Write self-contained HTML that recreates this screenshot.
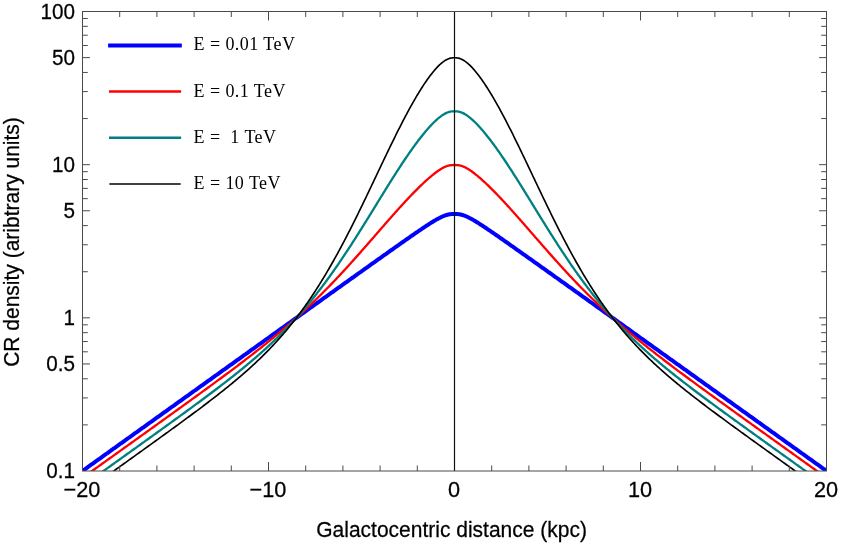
<!DOCTYPE html><html><head><meta charset="utf-8"><title>CR density</title><style>
html,body{margin:0;padding:0;background:#fff}
#p{position:relative;width:844px;height:548px;overflow:hidden;will-change:transform;font-family:"Liberation Sans",sans-serif;color:#000}
.t{position:absolute;white-space:nowrap;line-height:1}
.yt{font-size:21px;text-align:right;width:60px;left:15.4px;transform:scale(0.985,1.05);transform-origin:100% 50%;-webkit-text-stroke:0.25px #000}
.xt{font-size:21px;text-align:center;width:80px;transform:scale(1.035,1.05);transform-origin:50% 50%;-webkit-text-stroke:0.25px #000}
.lg{font-family:"Liberation Serif",serif;font-size:18px;left:193.5px;white-space:pre;letter-spacing:0.44px}

</style></head><body><div id="p">
<svg width="844" height="548" viewBox="0 0 844 548" style="position:absolute;left:0;top:0">
<defs><clipPath id="c"><rect x="82.5" y="11.5" width="744.0" height="459.5"/></clipPath></defs>
<g clip-path="url(#c)" fill="none" stroke-linejoin="round">
<path d="M74.5,476.66 L75.5,475.95 L76.5,475.23 L77.5,474.51 L78.5,473.80 L79.5,473.08 L80.5,472.37 L81.5,471.65 L82.5,470.93 L83.5,470.22 L84.5,469.50 L85.5,468.79 L86.5,468.07 L87.5,467.35 L88.5,466.64 L89.5,465.92 L90.5,465.21 L91.5,464.49 L92.5,463.77 L93.5,463.06 L94.5,462.34 L95.5,461.63 L96.5,460.91 L97.5,460.19 L98.5,459.48 L99.5,458.76 L100.5,458.05 L101.5,457.33 L102.5,456.61 L103.5,455.90 L104.5,455.18 L105.5,454.47 L106.5,453.75 L107.5,453.03 L108.5,452.32 L109.5,451.60 L110.5,450.89 L111.5,450.17 L112.5,449.45 L113.5,448.74 L114.5,448.02 L115.5,447.31 L116.5,446.59 L117.5,445.88 L118.5,445.16 L119.5,444.44 L120.5,443.73 L121.5,443.01 L122.5,442.30 L123.5,441.58 L124.5,440.86 L125.5,440.15 L126.5,439.43 L127.5,438.72 L128.5,438.00 L129.5,437.28 L130.5,436.57 L131.5,435.85 L132.5,435.14 L133.5,434.42 L134.5,433.70 L135.5,432.99 L136.5,432.27 L137.5,431.56 L138.5,430.84 L139.5,430.12 L140.5,429.41 L141.5,428.69 L142.5,427.98 L143.5,427.26 L144.5,426.55 L145.5,425.83 L146.5,425.11 L147.5,424.40 L148.5,423.68 L149.5,422.97 L150.5,422.25 L151.5,421.53 L152.5,420.82 L153.5,420.10 L154.5,419.39 L155.5,418.67 L156.5,417.95 L157.5,417.24 L158.5,416.52 L159.5,415.81 L160.5,415.09 L161.5,414.38 L162.5,413.66 L163.5,412.94 L164.5,412.23 L165.5,411.51 L166.5,410.80 L167.5,410.08 L168.5,409.36 L169.5,408.65 L170.5,407.93 L171.5,407.22 L172.5,406.50 L173.5,405.78 L174.5,405.07 L175.5,404.35 L176.5,403.64 L177.5,402.92 L178.5,402.21 L179.5,401.49 L180.5,400.77 L181.5,400.06 L182.5,399.34 L183.5,398.63 L184.5,397.91 L185.5,397.19 L186.5,396.48 L187.5,395.76 L188.5,395.05 L189.5,394.33 L190.5,393.62 L191.5,392.90 L192.5,392.18 L193.5,391.47 L194.5,390.75 L195.5,390.04 L196.5,389.32 L197.5,388.60 L198.5,387.89 L199.5,387.17 L200.5,386.46 L201.5,385.74 L202.5,385.03 L203.5,384.31 L204.5,383.59 L205.5,382.88 L206.5,382.16 L207.5,381.45 L208.5,380.73 L209.5,380.02 L210.5,379.30 L211.5,378.58 L212.5,377.87 L213.5,377.15 L214.5,376.44 L215.5,375.72 L216.5,375.00 L217.5,374.29 L218.5,373.57 L219.5,372.86 L220.5,372.14 L221.5,371.43 L222.5,370.71 L223.5,369.99 L224.5,369.28 L225.5,368.56 L226.5,367.85 L227.5,367.13 L228.5,366.42 L229.5,365.70 L230.5,364.98 L231.5,364.27 L232.5,363.55 L233.5,362.84 L234.5,362.12 L235.5,361.41 L236.5,360.69 L237.5,359.97 L238.5,359.26 L239.5,358.54 L240.5,357.83 L241.5,357.11 L242.5,356.40 L243.5,355.68 L244.5,354.97 L245.5,354.25 L246.5,353.53 L247.5,352.82 L248.5,352.10 L249.5,351.39 L250.5,350.67 L251.5,349.96 L252.5,349.24 L253.5,348.52 L254.5,347.81 L255.5,347.09 L256.5,346.38 L257.5,345.66 L258.5,344.95 L259.5,344.23 L260.5,343.52 L261.5,342.80 L262.5,342.08 L263.5,341.37 L264.5,340.65 L265.5,339.94 L266.5,339.22 L267.5,338.51 L268.5,337.79 L269.5,337.08 L270.5,336.36 L271.5,335.65 L272.5,334.93 L273.5,334.21 L274.5,333.50 L275.5,332.78 L276.5,332.07 L277.5,331.35 L278.5,330.64 L279.5,329.92 L280.5,329.21 L281.5,328.49 L282.5,327.78 L283.5,327.06 L284.5,326.35 L285.5,325.63 L286.5,324.91 L287.5,324.20 L288.5,323.48 L289.5,322.77 L290.5,322.05 L291.5,321.34 L292.5,320.62 L293.5,319.91 L294.5,319.19 L295.5,318.48 L296.5,317.76 L297.5,317.05 L298.5,316.33 L299.5,315.62 L300.5,314.90 L301.5,314.19 L302.5,313.47 L303.5,312.76 L304.5,312.04 L305.5,311.33 L306.5,310.61 L307.5,309.90 L308.5,309.18 L309.5,308.47 L310.5,307.75 L311.5,307.04 L312.5,306.32 L313.5,305.61 L314.5,304.89 L315.5,304.18 L316.5,303.46 L317.5,302.75 L318.5,302.03 L319.5,301.32 L320.5,300.60 L321.5,299.89 L322.5,299.17 L323.5,298.46 L324.5,297.74 L325.5,297.03 L326.5,296.31 L327.5,295.60 L328.5,294.88 L329.5,294.17 L330.5,293.46 L331.5,292.74 L332.5,292.03 L333.5,291.31 L334.5,290.60 L335.5,289.88 L336.5,289.17 L337.5,288.46 L338.5,287.74 L339.5,287.03 L340.5,286.31 L341.5,285.60 L342.5,284.88 L343.5,284.17 L344.5,283.46 L345.5,282.74 L346.5,282.03 L347.5,281.32 L348.5,280.60 L349.5,279.89 L350.5,279.17 L351.5,278.46 L352.5,277.75 L353.5,277.03 L354.5,276.32 L355.5,275.61 L356.5,274.89 L357.5,274.18 L358.5,273.47 L359.5,272.75 L360.5,272.04 L361.5,271.33 L362.5,270.62 L363.5,269.90 L364.5,269.19 L365.5,268.48 L366.5,267.77 L367.5,267.05 L368.5,266.34 L369.5,265.63 L370.5,264.92 L371.5,264.21 L372.5,263.49 L373.5,262.78 L374.5,262.07 L375.5,261.36 L376.5,260.65 L377.5,259.94 L378.5,259.23 L379.5,258.52 L380.5,257.81 L381.5,257.10 L382.5,256.39 L383.5,255.68 L384.5,254.97 L385.5,254.26 L386.5,253.55 L387.5,252.84 L388.5,252.13 L389.5,251.42 L390.5,250.71 L391.5,250.01 L392.5,249.30 L393.5,248.59 L394.5,247.89 L395.5,247.18 L396.5,246.47 L397.5,245.77 L398.5,245.06 L399.5,244.36 L400.5,243.66 L401.5,242.95 L402.5,242.25 L403.5,241.55 L404.5,240.85 L405.5,240.15 L406.5,239.45 L407.5,238.75 L408.5,238.05 L409.5,237.35 L410.5,236.66 L411.5,235.96 L412.5,235.27 L413.5,234.58 L414.5,233.88 L415.5,233.19 L416.5,232.51 L417.5,231.82 L418.5,231.14 L419.5,230.46 L420.5,229.78 L421.5,229.10 L422.5,228.42 L423.5,227.75 L424.5,227.09 L425.5,226.42 L426.5,225.76 L427.5,225.11 L428.5,224.46 L429.5,223.82 L430.5,223.18 L431.5,222.55 L432.5,221.93 L433.5,221.32 L434.5,220.71 L435.5,220.12 L436.5,219.55 L437.5,218.99 L438.5,218.44 L439.5,217.92 L440.5,217.41 L441.5,216.93 L442.5,216.48 L443.5,216.06 L444.5,215.67 L445.5,215.32 L446.5,215.01 L447.5,214.75 L448.5,214.52 L449.5,214.34 L450.5,214.21 L451.5,214.11 L452.5,214.05 L453.5,214.02 L454.5,214.02 L455.5,214.02 L456.5,214.05 L457.5,214.11 L458.5,214.21 L459.5,214.34 L460.5,214.52 L461.5,214.75 L462.5,215.01 L463.5,215.32 L464.5,215.67 L465.5,216.06 L466.5,216.48 L467.5,216.93 L468.5,217.41 L469.5,217.92 L470.5,218.44 L471.5,218.99 L472.5,219.55 L473.5,220.12 L474.5,220.71 L475.5,221.32 L476.5,221.93 L477.5,222.55 L478.5,223.18 L479.5,223.82 L480.5,224.46 L481.5,225.11 L482.5,225.76 L483.5,226.42 L484.5,227.09 L485.5,227.75 L486.5,228.42 L487.5,229.10 L488.5,229.78 L489.5,230.46 L490.5,231.14 L491.5,231.82 L492.5,232.51 L493.5,233.19 L494.5,233.88 L495.5,234.58 L496.5,235.27 L497.5,235.96 L498.5,236.66 L499.5,237.35 L500.5,238.05 L501.5,238.75 L502.5,239.45 L503.5,240.15 L504.5,240.85 L505.5,241.55 L506.5,242.25 L507.5,242.95 L508.5,243.66 L509.5,244.36 L510.5,245.06 L511.5,245.77 L512.5,246.47 L513.5,247.18 L514.5,247.89 L515.5,248.59 L516.5,249.30 L517.5,250.01 L518.5,250.71 L519.5,251.42 L520.5,252.13 L521.5,252.84 L522.5,253.55 L523.5,254.26 L524.5,254.97 L525.5,255.68 L526.5,256.39 L527.5,257.10 L528.5,257.81 L529.5,258.52 L530.5,259.23 L531.5,259.94 L532.5,260.65 L533.5,261.36 L534.5,262.07 L535.5,262.78 L536.5,263.49 L537.5,264.21 L538.5,264.92 L539.5,265.63 L540.5,266.34 L541.5,267.05 L542.5,267.77 L543.5,268.48 L544.5,269.19 L545.5,269.90 L546.5,270.62 L547.5,271.33 L548.5,272.04 L549.5,272.75 L550.5,273.47 L551.5,274.18 L552.5,274.89 L553.5,275.61 L554.5,276.32 L555.5,277.03 L556.5,277.75 L557.5,278.46 L558.5,279.17 L559.5,279.89 L560.5,280.60 L561.5,281.32 L562.5,282.03 L563.5,282.74 L564.5,283.46 L565.5,284.17 L566.5,284.88 L567.5,285.60 L568.5,286.31 L569.5,287.03 L570.5,287.74 L571.5,288.46 L572.5,289.17 L573.5,289.88 L574.5,290.60 L575.5,291.31 L576.5,292.03 L577.5,292.74 L578.5,293.46 L579.5,294.17 L580.5,294.88 L581.5,295.60 L582.5,296.31 L583.5,297.03 L584.5,297.74 L585.5,298.46 L586.5,299.17 L587.5,299.89 L588.5,300.60 L589.5,301.32 L590.5,302.03 L591.5,302.75 L592.5,303.46 L593.5,304.18 L594.5,304.89 L595.5,305.61 L596.5,306.32 L597.5,307.04 L598.5,307.75 L599.5,308.47 L600.5,309.18 L601.5,309.90 L602.5,310.61 L603.5,311.33 L604.5,312.04 L605.5,312.76 L606.5,313.47 L607.5,314.19 L608.5,314.90 L609.5,315.62 L610.5,316.33 L611.5,317.05 L612.5,317.76 L613.5,318.48 L614.5,319.19 L615.5,319.91 L616.5,320.62 L617.5,321.34 L618.5,322.05 L619.5,322.77 L620.5,323.48 L621.5,324.20 L622.5,324.91 L623.5,325.63 L624.5,326.35 L625.5,327.06 L626.5,327.78 L627.5,328.49 L628.5,329.21 L629.5,329.92 L630.5,330.64 L631.5,331.35 L632.5,332.07 L633.5,332.78 L634.5,333.50 L635.5,334.21 L636.5,334.93 L637.5,335.65 L638.5,336.36 L639.5,337.08 L640.5,337.79 L641.5,338.51 L642.5,339.22 L643.5,339.94 L644.5,340.65 L645.5,341.37 L646.5,342.08 L647.5,342.80 L648.5,343.52 L649.5,344.23 L650.5,344.95 L651.5,345.66 L652.5,346.38 L653.5,347.09 L654.5,347.81 L655.5,348.52 L656.5,349.24 L657.5,349.96 L658.5,350.67 L659.5,351.39 L660.5,352.10 L661.5,352.82 L662.5,353.53 L663.5,354.25 L664.5,354.97 L665.5,355.68 L666.5,356.40 L667.5,357.11 L668.5,357.83 L669.5,358.54 L670.5,359.26 L671.5,359.97 L672.5,360.69 L673.5,361.41 L674.5,362.12 L675.5,362.84 L676.5,363.55 L677.5,364.27 L678.5,364.98 L679.5,365.70 L680.5,366.42 L681.5,367.13 L682.5,367.85 L683.5,368.56 L684.5,369.28 L685.5,369.99 L686.5,370.71 L687.5,371.43 L688.5,372.14 L689.5,372.86 L690.5,373.57 L691.5,374.29 L692.5,375.00 L693.5,375.72 L694.5,376.44 L695.5,377.15 L696.5,377.87 L697.5,378.58 L698.5,379.30 L699.5,380.02 L700.5,380.73 L701.5,381.45 L702.5,382.16 L703.5,382.88 L704.5,383.59 L705.5,384.31 L706.5,385.03 L707.5,385.74 L708.5,386.46 L709.5,387.17 L710.5,387.89 L711.5,388.60 L712.5,389.32 L713.5,390.04 L714.5,390.75 L715.5,391.47 L716.5,392.18 L717.5,392.90 L718.5,393.62 L719.5,394.33 L720.5,395.05 L721.5,395.76 L722.5,396.48 L723.5,397.19 L724.5,397.91 L725.5,398.63 L726.5,399.34 L727.5,400.06 L728.5,400.77 L729.5,401.49 L730.5,402.21 L731.5,402.92 L732.5,403.64 L733.5,404.35 L734.5,405.07 L735.5,405.78 L736.5,406.50 L737.5,407.22 L738.5,407.93 L739.5,408.65 L740.5,409.36 L741.5,410.08 L742.5,410.80 L743.5,411.51 L744.5,412.23 L745.5,412.94 L746.5,413.66 L747.5,414.38 L748.5,415.09 L749.5,415.81 L750.5,416.52 L751.5,417.24 L752.5,417.95 L753.5,418.67 L754.5,419.39 L755.5,420.10 L756.5,420.82 L757.5,421.53 L758.5,422.25 L759.5,422.97 L760.5,423.68 L761.5,424.40 L762.5,425.11 L763.5,425.83 L764.5,426.55 L765.5,427.26 L766.5,427.98 L767.5,428.69 L768.5,429.41 L769.5,430.12 L770.5,430.84 L771.5,431.56 L772.5,432.27 L773.5,432.99 L774.5,433.70 L775.5,434.42 L776.5,435.14 L777.5,435.85 L778.5,436.57 L779.5,437.28 L780.5,438.00 L781.5,438.72 L782.5,439.43 L783.5,440.15 L784.5,440.86 L785.5,441.58 L786.5,442.30 L787.5,443.01 L788.5,443.73 L789.5,444.44 L790.5,445.16 L791.5,445.88 L792.5,446.59 L793.5,447.31 L794.5,448.02 L795.5,448.74 L796.5,449.45 L797.5,450.17 L798.5,450.89 L799.5,451.60 L800.5,452.32 L801.5,453.03 L802.5,453.75 L803.5,454.47 L804.5,455.18 L805.5,455.90 L806.5,456.61 L807.5,457.33 L808.5,458.05 L809.5,458.76 L810.5,459.48 L811.5,460.19 L812.5,460.91 L813.5,461.63 L814.5,462.34 L815.5,463.06 L816.5,463.77 L817.5,464.49 L818.5,465.21 L819.5,465.92 L820.5,466.64 L821.5,467.35 L822.5,468.07 L823.5,468.79 L824.5,469.50 L825.5,470.22 L826.5,470.93 L827.5,471.65 L828.5,472.37 L829.5,473.08 L830.5,473.80 L831.5,474.51 L832.5,475.23 L833.5,475.95 L834.5,476.66" stroke="#0000ff" stroke-width="4.0"/>
<path d="M74.5,483.57 L75.5,482.85 L76.5,482.14 L77.5,481.42 L78.5,480.71 L79.5,479.99 L80.5,479.27 L81.5,478.56 L82.5,477.84 L83.5,477.13 L84.5,476.41 L85.5,475.69 L86.5,474.98 L87.5,474.26 L88.5,473.55 L89.5,472.83 L90.5,472.11 L91.5,471.40 L92.5,470.68 L93.5,469.97 L94.5,469.25 L95.5,468.53 L96.5,467.82 L97.5,467.10 L98.5,466.39 L99.5,465.67 L100.5,464.95 L101.5,464.24 L102.5,463.52 L103.5,462.81 L104.5,462.09 L105.5,461.37 L106.5,460.66 L107.5,459.94 L108.5,459.23 L109.5,458.51 L110.5,457.79 L111.5,457.08 L112.5,456.36 L113.5,455.65 L114.5,454.93 L115.5,454.21 L116.5,453.50 L117.5,452.78 L118.5,452.06 L119.5,451.35 L120.5,450.63 L121.5,449.92 L122.5,449.20 L123.5,448.48 L124.5,447.77 L125.5,447.05 L126.5,446.33 L127.5,445.62 L128.5,444.90 L129.5,444.19 L130.5,443.47 L131.5,442.75 L132.5,442.04 L133.5,441.32 L134.5,440.60 L135.5,439.89 L136.5,439.17 L137.5,438.45 L138.5,437.74 L139.5,437.02 L140.5,436.30 L141.5,435.59 L142.5,434.87 L143.5,434.15 L144.5,433.44 L145.5,432.72 L146.5,432.00 L147.5,431.29 L148.5,430.57 L149.5,429.85 L150.5,429.14 L151.5,428.42 L152.5,427.70 L153.5,426.98 L154.5,426.27 L155.5,425.55 L156.5,424.83 L157.5,424.11 L158.5,423.40 L159.5,422.68 L160.5,421.96 L161.5,421.24 L162.5,420.52 L163.5,419.81 L164.5,419.09 L165.5,418.37 L166.5,417.65 L167.5,416.93 L168.5,416.21 L169.5,415.50 L170.5,414.78 L171.5,414.06 L172.5,413.34 L173.5,412.62 L174.5,411.90 L175.5,411.18 L176.5,410.46 L177.5,409.74 L178.5,409.02 L179.5,408.30 L180.5,407.58 L181.5,406.86 L182.5,406.14 L183.5,405.42 L184.5,404.69 L185.5,403.97 L186.5,403.25 L187.5,402.53 L188.5,401.81 L189.5,401.08 L190.5,400.36 L191.5,399.64 L192.5,398.91 L193.5,398.19 L194.5,397.47 L195.5,396.74 L196.5,396.02 L197.5,395.29 L198.5,394.57 L199.5,393.84 L200.5,393.11 L201.5,392.39 L202.5,391.66 L203.5,390.93 L204.5,390.20 L205.5,389.48 L206.5,388.75 L207.5,388.02 L208.5,387.29 L209.5,386.56 L210.5,385.83 L211.5,385.09 L212.5,384.36 L213.5,383.63 L214.5,382.89 L215.5,382.16 L216.5,381.43 L217.5,380.69 L218.5,379.95 L219.5,379.22 L220.5,378.48 L221.5,377.74 L222.5,377.00 L223.5,376.26 L224.5,375.52 L225.5,374.78 L226.5,374.04 L227.5,373.29 L228.5,372.55 L229.5,371.80 L230.5,371.05 L231.5,370.31 L232.5,369.56 L233.5,368.81 L234.5,368.06 L235.5,367.30 L236.5,366.55 L237.5,365.80 L238.5,365.04 L239.5,364.28 L240.5,363.53 L241.5,362.77 L242.5,362.00 L243.5,361.24 L244.5,360.48 L245.5,359.71 L246.5,358.95 L247.5,358.18 L248.5,357.41 L249.5,356.64 L250.5,355.86 L251.5,355.09 L252.5,354.31 L253.5,353.53 L254.5,352.75 L255.5,351.97 L256.5,351.18 L257.5,350.40 L258.5,349.61 L259.5,348.82 L260.5,348.03 L261.5,347.23 L262.5,346.44 L263.5,345.64 L264.5,344.84 L265.5,344.03 L266.5,343.23 L267.5,342.42 L268.5,341.61 L269.5,340.79 L270.5,339.98 L271.5,339.16 L272.5,338.34 L273.5,337.52 L274.5,336.69 L275.5,335.86 L276.5,335.03 L277.5,334.20 L278.5,333.36 L279.5,332.52 L280.5,331.67 L281.5,330.83 L282.5,329.98 L283.5,329.13 L284.5,328.27 L285.5,327.41 L286.5,326.55 L287.5,325.68 L288.5,324.82 L289.5,323.94 L290.5,323.07 L291.5,322.19 L292.5,321.31 L293.5,320.42 L294.5,319.53 L295.5,318.64 L296.5,317.74 L297.5,316.84 L298.5,315.94 L299.5,315.03 L300.5,314.12 L301.5,313.20 L302.5,312.29 L303.5,311.36 L304.5,310.44 L305.5,309.51 L306.5,308.57 L307.5,307.63 L308.5,306.69 L309.5,305.74 L310.5,304.79 L311.5,303.84 L312.5,302.88 L313.5,301.91 L314.5,300.95 L315.5,299.98 L316.5,299.00 L317.5,298.02 L318.5,297.04 L319.5,296.05 L320.5,295.06 L321.5,294.06 L322.5,293.06 L323.5,292.06 L324.5,291.05 L325.5,290.04 L326.5,289.02 L327.5,288.00 L328.5,286.97 L329.5,285.94 L330.5,284.91 L331.5,283.87 L332.5,282.83 L333.5,281.79 L334.5,280.74 L335.5,279.69 L336.5,278.63 L337.5,277.57 L338.5,276.50 L339.5,275.43 L340.5,274.36 L341.5,273.29 L342.5,272.21 L343.5,271.12 L344.5,270.04 L345.5,268.95 L346.5,267.86 L347.5,266.76 L348.5,265.66 L349.5,264.56 L350.5,263.45 L351.5,262.34 L352.5,261.23 L353.5,260.11 L354.5,259.00 L355.5,257.88 L356.5,256.75 L357.5,255.63 L358.5,254.50 L359.5,253.37 L360.5,252.24 L361.5,251.10 L362.5,249.97 L363.5,248.83 L364.5,247.69 L365.5,246.55 L366.5,245.41 L367.5,244.26 L368.5,243.12 L369.5,241.97 L370.5,240.82 L371.5,239.68 L372.5,238.53 L373.5,237.38 L374.5,236.23 L375.5,235.08 L376.5,233.93 L377.5,232.78 L378.5,231.63 L379.5,230.48 L380.5,229.33 L381.5,228.18 L382.5,227.04 L383.5,225.89 L384.5,224.74 L385.5,223.60 L386.5,222.46 L387.5,221.32 L388.5,220.18 L389.5,219.04 L390.5,217.91 L391.5,216.78 L392.5,215.65 L393.5,214.52 L394.5,213.40 L395.5,212.28 L396.5,211.16 L397.5,210.04 L398.5,208.93 L399.5,207.83 L400.5,206.73 L401.5,205.63 L402.5,204.54 L403.5,203.45 L404.5,202.36 L405.5,201.29 L406.5,200.21 L407.5,199.15 L408.5,198.09 L409.5,197.03 L410.5,195.98 L411.5,194.94 L412.5,193.90 L413.5,192.87 L414.5,191.85 L415.5,190.84 L416.5,189.83 L417.5,188.83 L418.5,187.84 L419.5,186.86 L420.5,185.89 L421.5,184.93 L422.5,183.98 L423.5,183.03 L424.5,182.10 L425.5,181.18 L426.5,180.27 L427.5,179.38 L428.5,178.49 L429.5,177.62 L430.5,176.77 L431.5,175.93 L432.5,175.10 L433.5,174.30 L434.5,173.51 L435.5,172.74 L436.5,172.00 L437.5,171.28 L438.5,170.58 L439.5,169.92 L440.5,169.28 L441.5,168.67 L442.5,168.11 L443.5,167.58 L444.5,167.10 L445.5,166.66 L446.5,166.27 L447.5,165.93 L448.5,165.65 L449.5,165.42 L450.5,165.24 L451.5,165.11 L452.5,165.03 L453.5,164.99 L454.5,164.98 L455.5,164.99 L456.5,165.03 L457.5,165.11 L458.5,165.24 L459.5,165.42 L460.5,165.65 L461.5,165.93 L462.5,166.27 L463.5,166.66 L464.5,167.10 L465.5,167.58 L466.5,168.11 L467.5,168.67 L468.5,169.28 L469.5,169.92 L470.5,170.58 L471.5,171.28 L472.5,172.00 L473.5,172.74 L474.5,173.51 L475.5,174.30 L476.5,175.10 L477.5,175.93 L478.5,176.77 L479.5,177.62 L480.5,178.49 L481.5,179.38 L482.5,180.27 L483.5,181.18 L484.5,182.10 L485.5,183.03 L486.5,183.98 L487.5,184.93 L488.5,185.89 L489.5,186.86 L490.5,187.84 L491.5,188.83 L492.5,189.83 L493.5,190.84 L494.5,191.85 L495.5,192.87 L496.5,193.90 L497.5,194.94 L498.5,195.98 L499.5,197.03 L500.5,198.09 L501.5,199.15 L502.5,200.21 L503.5,201.29 L504.5,202.36 L505.5,203.45 L506.5,204.54 L507.5,205.63 L508.5,206.73 L509.5,207.83 L510.5,208.93 L511.5,210.04 L512.5,211.16 L513.5,212.28 L514.5,213.40 L515.5,214.52 L516.5,215.65 L517.5,216.78 L518.5,217.91 L519.5,219.04 L520.5,220.18 L521.5,221.32 L522.5,222.46 L523.5,223.60 L524.5,224.74 L525.5,225.89 L526.5,227.04 L527.5,228.18 L528.5,229.33 L529.5,230.48 L530.5,231.63 L531.5,232.78 L532.5,233.93 L533.5,235.08 L534.5,236.23 L535.5,237.38 L536.5,238.53 L537.5,239.68 L538.5,240.82 L539.5,241.97 L540.5,243.12 L541.5,244.26 L542.5,245.41 L543.5,246.55 L544.5,247.69 L545.5,248.83 L546.5,249.97 L547.5,251.10 L548.5,252.24 L549.5,253.37 L550.5,254.50 L551.5,255.63 L552.5,256.75 L553.5,257.88 L554.5,259.00 L555.5,260.11 L556.5,261.23 L557.5,262.34 L558.5,263.45 L559.5,264.56 L560.5,265.66 L561.5,266.76 L562.5,267.86 L563.5,268.95 L564.5,270.04 L565.5,271.12 L566.5,272.21 L567.5,273.29 L568.5,274.36 L569.5,275.43 L570.5,276.50 L571.5,277.57 L572.5,278.63 L573.5,279.69 L574.5,280.74 L575.5,281.79 L576.5,282.83 L577.5,283.87 L578.5,284.91 L579.5,285.94 L580.5,286.97 L581.5,288.00 L582.5,289.02 L583.5,290.04 L584.5,291.05 L585.5,292.06 L586.5,293.06 L587.5,294.06 L588.5,295.06 L589.5,296.05 L590.5,297.04 L591.5,298.02 L592.5,299.00 L593.5,299.98 L594.5,300.95 L595.5,301.91 L596.5,302.88 L597.5,303.84 L598.5,304.79 L599.5,305.74 L600.5,306.69 L601.5,307.63 L602.5,308.57 L603.5,309.51 L604.5,310.44 L605.5,311.36 L606.5,312.29 L607.5,313.20 L608.5,314.12 L609.5,315.03 L610.5,315.94 L611.5,316.84 L612.5,317.74 L613.5,318.64 L614.5,319.53 L615.5,320.42 L616.5,321.31 L617.5,322.19 L618.5,323.07 L619.5,323.94 L620.5,324.82 L621.5,325.68 L622.5,326.55 L623.5,327.41 L624.5,328.27 L625.5,329.13 L626.5,329.98 L627.5,330.83 L628.5,331.67 L629.5,332.52 L630.5,333.36 L631.5,334.20 L632.5,335.03 L633.5,335.86 L634.5,336.69 L635.5,337.52 L636.5,338.34 L637.5,339.16 L638.5,339.98 L639.5,340.79 L640.5,341.61 L641.5,342.42 L642.5,343.23 L643.5,344.03 L644.5,344.84 L645.5,345.64 L646.5,346.44 L647.5,347.23 L648.5,348.03 L649.5,348.82 L650.5,349.61 L651.5,350.40 L652.5,351.18 L653.5,351.97 L654.5,352.75 L655.5,353.53 L656.5,354.31 L657.5,355.09 L658.5,355.86 L659.5,356.64 L660.5,357.41 L661.5,358.18 L662.5,358.95 L663.5,359.71 L664.5,360.48 L665.5,361.24 L666.5,362.00 L667.5,362.77 L668.5,363.53 L669.5,364.28 L670.5,365.04 L671.5,365.80 L672.5,366.55 L673.5,367.30 L674.5,368.06 L675.5,368.81 L676.5,369.56 L677.5,370.31 L678.5,371.05 L679.5,371.80 L680.5,372.55 L681.5,373.29 L682.5,374.04 L683.5,374.78 L684.5,375.52 L685.5,376.26 L686.5,377.00 L687.5,377.74 L688.5,378.48 L689.5,379.22 L690.5,379.95 L691.5,380.69 L692.5,381.43 L693.5,382.16 L694.5,382.89 L695.5,383.63 L696.5,384.36 L697.5,385.09 L698.5,385.83 L699.5,386.56 L700.5,387.29 L701.5,388.02 L702.5,388.75 L703.5,389.48 L704.5,390.20 L705.5,390.93 L706.5,391.66 L707.5,392.39 L708.5,393.11 L709.5,393.84 L710.5,394.57 L711.5,395.29 L712.5,396.02 L713.5,396.74 L714.5,397.47 L715.5,398.19 L716.5,398.91 L717.5,399.64 L718.5,400.36 L719.5,401.08 L720.5,401.81 L721.5,402.53 L722.5,403.25 L723.5,403.97 L724.5,404.69 L725.5,405.42 L726.5,406.14 L727.5,406.86 L728.5,407.58 L729.5,408.30 L730.5,409.02 L731.5,409.74 L732.5,410.46 L733.5,411.18 L734.5,411.90 L735.5,412.62 L736.5,413.34 L737.5,414.06 L738.5,414.78 L739.5,415.50 L740.5,416.21 L741.5,416.93 L742.5,417.65 L743.5,418.37 L744.5,419.09 L745.5,419.81 L746.5,420.52 L747.5,421.24 L748.5,421.96 L749.5,422.68 L750.5,423.40 L751.5,424.11 L752.5,424.83 L753.5,425.55 L754.5,426.27 L755.5,426.98 L756.5,427.70 L757.5,428.42 L758.5,429.14 L759.5,429.85 L760.5,430.57 L761.5,431.29 L762.5,432.00 L763.5,432.72 L764.5,433.44 L765.5,434.15 L766.5,434.87 L767.5,435.59 L768.5,436.30 L769.5,437.02 L770.5,437.74 L771.5,438.45 L772.5,439.17 L773.5,439.89 L774.5,440.60 L775.5,441.32 L776.5,442.04 L777.5,442.75 L778.5,443.47 L779.5,444.19 L780.5,444.90 L781.5,445.62 L782.5,446.33 L783.5,447.05 L784.5,447.77 L785.5,448.48 L786.5,449.20 L787.5,449.92 L788.5,450.63 L789.5,451.35 L790.5,452.06 L791.5,452.78 L792.5,453.50 L793.5,454.21 L794.5,454.93 L795.5,455.65 L796.5,456.36 L797.5,457.08 L798.5,457.79 L799.5,458.51 L800.5,459.23 L801.5,459.94 L802.5,460.66 L803.5,461.37 L804.5,462.09 L805.5,462.81 L806.5,463.52 L807.5,464.24 L808.5,464.95 L809.5,465.67 L810.5,466.39 L811.5,467.10 L812.5,467.82 L813.5,468.53 L814.5,469.25 L815.5,469.97 L816.5,470.68 L817.5,471.40 L818.5,472.11 L819.5,472.83 L820.5,473.55 L821.5,474.26 L822.5,474.98 L823.5,475.69 L824.5,476.41 L825.5,477.13 L826.5,477.84 L827.5,478.56 L828.5,479.27 L829.5,479.99 L830.5,480.71 L831.5,481.42 L832.5,482.14 L833.5,482.85 L834.5,483.57" stroke="#ff0000" stroke-width="2.3"/>
<path d="M74.5,491.77 L75.5,491.05 L76.5,490.34 L77.5,489.62 L78.5,488.90 L79.5,488.19 L80.5,487.47 L81.5,486.76 L82.5,486.04 L83.5,485.32 L84.5,484.61 L85.5,483.89 L86.5,483.18 L87.5,482.46 L88.5,481.74 L89.5,481.03 L90.5,480.31 L91.5,479.60 L92.5,478.88 L93.5,478.16 L94.5,477.45 L95.5,476.73 L96.5,476.01 L97.5,475.30 L98.5,474.58 L99.5,473.87 L100.5,473.15 L101.5,472.43 L102.5,471.72 L103.5,471.00 L104.5,470.29 L105.5,469.57 L106.5,468.85 L107.5,468.14 L108.5,467.42 L109.5,466.70 L110.5,465.99 L111.5,465.27 L112.5,464.56 L113.5,463.84 L114.5,463.12 L115.5,462.41 L116.5,461.69 L117.5,460.97 L118.5,460.26 L119.5,459.54 L120.5,458.82 L121.5,458.11 L122.5,457.39 L123.5,456.67 L124.5,455.96 L125.5,455.24 L126.5,454.52 L127.5,453.81 L128.5,453.09 L129.5,452.37 L130.5,451.66 L131.5,450.94 L132.5,450.22 L133.5,449.50 L134.5,448.79 L135.5,448.07 L136.5,447.35 L137.5,446.63 L138.5,445.92 L139.5,445.20 L140.5,444.48 L141.5,443.76 L142.5,443.05 L143.5,442.33 L144.5,441.61 L145.5,440.89 L146.5,440.17 L147.5,439.45 L148.5,438.74 L149.5,438.02 L150.5,437.30 L151.5,436.58 L152.5,435.86 L153.5,435.14 L154.5,434.42 L155.5,433.70 L156.5,432.98 L157.5,432.26 L158.5,431.54 L159.5,430.82 L160.5,430.10 L161.5,429.38 L162.5,428.66 L163.5,427.94 L164.5,427.22 L165.5,426.50 L166.5,425.77 L167.5,425.05 L168.5,424.33 L169.5,423.61 L170.5,422.88 L171.5,422.16 L172.5,421.44 L173.5,420.71 L174.5,419.99 L175.5,419.26 L176.5,418.54 L177.5,417.81 L178.5,417.09 L179.5,416.36 L180.5,415.64 L181.5,414.91 L182.5,414.18 L183.5,413.45 L184.5,412.72 L185.5,411.99 L186.5,411.26 L187.5,410.53 L188.5,409.80 L189.5,409.07 L190.5,408.34 L191.5,407.61 L192.5,406.87 L193.5,406.14 L194.5,405.40 L195.5,404.67 L196.5,403.93 L197.5,403.20 L198.5,402.46 L199.5,401.72 L200.5,400.98 L201.5,400.24 L202.5,399.50 L203.5,398.75 L204.5,398.01 L205.5,397.26 L206.5,396.52 L207.5,395.77 L208.5,395.02 L209.5,394.27 L210.5,393.52 L211.5,392.77 L212.5,392.02 L213.5,391.26 L214.5,390.51 L215.5,389.75 L216.5,388.99 L217.5,388.23 L218.5,387.47 L219.5,386.71 L220.5,385.94 L221.5,385.17 L222.5,384.40 L223.5,383.63 L224.5,382.86 L225.5,382.09 L226.5,381.31 L227.5,380.53 L228.5,379.75 L229.5,378.97 L230.5,378.19 L231.5,377.40 L232.5,376.61 L233.5,375.82 L234.5,375.02 L235.5,374.23 L236.5,373.43 L237.5,372.62 L238.5,371.82 L239.5,371.01 L240.5,370.20 L241.5,369.39 L242.5,368.57 L243.5,367.75 L244.5,366.93 L245.5,366.10 L246.5,365.28 L247.5,364.44 L248.5,363.61 L249.5,362.77 L250.5,361.92 L251.5,361.08 L252.5,360.23 L253.5,359.37 L254.5,358.51 L255.5,357.65 L256.5,356.79 L257.5,355.92 L258.5,355.04 L259.5,354.16 L260.5,353.28 L261.5,352.39 L262.5,351.50 L263.5,350.60 L264.5,349.70 L265.5,348.79 L266.5,347.88 L267.5,346.96 L268.5,346.04 L269.5,345.11 L270.5,344.17 L271.5,343.24 L272.5,342.29 L273.5,341.34 L274.5,340.39 L275.5,339.42 L276.5,338.46 L277.5,337.48 L278.5,336.50 L279.5,335.52 L280.5,334.53 L281.5,333.53 L282.5,332.52 L283.5,331.51 L284.5,330.49 L285.5,329.47 L286.5,328.44 L287.5,327.40 L288.5,326.35 L289.5,325.30 L290.5,324.24 L291.5,323.17 L292.5,322.10 L293.5,321.01 L294.5,319.92 L295.5,318.83 L296.5,317.72 L297.5,316.61 L298.5,315.49 L299.5,314.36 L300.5,313.23 L301.5,312.08 L302.5,310.93 L303.5,309.77 L304.5,308.60 L305.5,307.43 L306.5,306.24 L307.5,305.05 L308.5,303.85 L309.5,302.64 L310.5,301.42 L311.5,300.19 L312.5,298.96 L313.5,297.71 L314.5,296.46 L315.5,295.20 L316.5,293.93 L317.5,292.65 L318.5,291.37 L319.5,290.07 L320.5,288.77 L321.5,287.45 L322.5,286.13 L323.5,284.80 L324.5,283.46 L325.5,282.12 L326.5,280.76 L327.5,279.40 L328.5,278.03 L329.5,276.65 L330.5,275.26 L331.5,273.86 L332.5,272.45 L333.5,271.04 L334.5,269.62 L335.5,268.19 L336.5,266.75 L337.5,265.30 L338.5,263.85 L339.5,262.39 L340.5,260.92 L341.5,259.44 L342.5,257.96 L343.5,256.47 L344.5,254.97 L345.5,253.46 L346.5,251.95 L347.5,250.43 L348.5,248.90 L349.5,247.37 L350.5,245.83 L351.5,244.29 L352.5,242.74 L353.5,241.18 L354.5,239.62 L355.5,238.05 L356.5,236.48 L357.5,234.90 L358.5,233.32 L359.5,231.73 L360.5,230.14 L361.5,228.54 L362.5,226.94 L363.5,225.34 L364.5,223.73 L365.5,222.12 L366.5,220.51 L367.5,218.89 L368.5,217.28 L369.5,215.65 L370.5,214.03 L371.5,212.41 L372.5,210.78 L373.5,209.16 L374.5,207.53 L375.5,205.90 L376.5,204.28 L377.5,202.65 L378.5,201.02 L379.5,199.40 L380.5,197.77 L381.5,196.15 L382.5,194.53 L383.5,192.91 L384.5,191.29 L385.5,189.67 L386.5,188.06 L387.5,186.46 L388.5,184.85 L389.5,183.25 L390.5,181.66 L391.5,180.06 L392.5,178.48 L393.5,176.90 L394.5,175.32 L395.5,173.76 L396.5,172.20 L397.5,170.64 L398.5,169.10 L399.5,167.56 L400.5,166.03 L401.5,164.50 L402.5,162.99 L403.5,161.49 L404.5,159.99 L405.5,158.51 L406.5,157.03 L407.5,155.57 L408.5,154.12 L409.5,152.68 L410.5,151.25 L411.5,149.83 L412.5,148.43 L413.5,147.04 L414.5,145.66 L415.5,144.30 L416.5,142.95 L417.5,141.62 L418.5,140.30 L419.5,139.00 L420.5,137.71 L421.5,136.44 L422.5,135.19 L423.5,133.96 L424.5,132.74 L425.5,131.55 L426.5,130.37 L427.5,129.22 L428.5,128.08 L429.5,126.97 L430.5,125.88 L431.5,124.82 L432.5,123.78 L433.5,122.77 L434.5,121.78 L435.5,120.82 L436.5,119.90 L437.5,119.01 L438.5,118.15 L439.5,117.33 L440.5,116.55 L441.5,115.81 L442.5,115.12 L443.5,114.48 L444.5,113.89 L445.5,113.36 L446.5,112.89 L447.5,112.48 L448.5,112.13 L449.5,111.84 L450.5,111.62 L451.5,111.45 L452.5,111.35 L453.5,111.29 L454.5,111.27 L455.5,111.29 L456.5,111.35 L457.5,111.45 L458.5,111.62 L459.5,111.84 L460.5,112.13 L461.5,112.48 L462.5,112.89 L463.5,113.36 L464.5,113.89 L465.5,114.48 L466.5,115.12 L467.5,115.81 L468.5,116.55 L469.5,117.33 L470.5,118.15 L471.5,119.01 L472.5,119.90 L473.5,120.82 L474.5,121.78 L475.5,122.77 L476.5,123.78 L477.5,124.82 L478.5,125.88 L479.5,126.97 L480.5,128.08 L481.5,129.22 L482.5,130.37 L483.5,131.55 L484.5,132.74 L485.5,133.96 L486.5,135.19 L487.5,136.44 L488.5,137.71 L489.5,139.00 L490.5,140.30 L491.5,141.62 L492.5,142.95 L493.5,144.30 L494.5,145.66 L495.5,147.04 L496.5,148.43 L497.5,149.83 L498.5,151.25 L499.5,152.68 L500.5,154.12 L501.5,155.57 L502.5,157.03 L503.5,158.51 L504.5,159.99 L505.5,161.49 L506.5,162.99 L507.5,164.50 L508.5,166.03 L509.5,167.56 L510.5,169.10 L511.5,170.64 L512.5,172.20 L513.5,173.76 L514.5,175.32 L515.5,176.90 L516.5,178.48 L517.5,180.06 L518.5,181.66 L519.5,183.25 L520.5,184.85 L521.5,186.46 L522.5,188.06 L523.5,189.67 L524.5,191.29 L525.5,192.91 L526.5,194.53 L527.5,196.15 L528.5,197.77 L529.5,199.40 L530.5,201.02 L531.5,202.65 L532.5,204.28 L533.5,205.90 L534.5,207.53 L535.5,209.16 L536.5,210.78 L537.5,212.41 L538.5,214.03 L539.5,215.65 L540.5,217.28 L541.5,218.89 L542.5,220.51 L543.5,222.12 L544.5,223.73 L545.5,225.34 L546.5,226.94 L547.5,228.54 L548.5,230.14 L549.5,231.73 L550.5,233.32 L551.5,234.90 L552.5,236.48 L553.5,238.05 L554.5,239.62 L555.5,241.18 L556.5,242.74 L557.5,244.29 L558.5,245.83 L559.5,247.37 L560.5,248.90 L561.5,250.43 L562.5,251.95 L563.5,253.46 L564.5,254.97 L565.5,256.47 L566.5,257.96 L567.5,259.44 L568.5,260.92 L569.5,262.39 L570.5,263.85 L571.5,265.30 L572.5,266.75 L573.5,268.19 L574.5,269.62 L575.5,271.04 L576.5,272.45 L577.5,273.86 L578.5,275.26 L579.5,276.65 L580.5,278.03 L581.5,279.40 L582.5,280.76 L583.5,282.12 L584.5,283.46 L585.5,284.80 L586.5,286.13 L587.5,287.45 L588.5,288.77 L589.5,290.07 L590.5,291.37 L591.5,292.65 L592.5,293.93 L593.5,295.20 L594.5,296.46 L595.5,297.71 L596.5,298.96 L597.5,300.19 L598.5,301.42 L599.5,302.64 L600.5,303.85 L601.5,305.05 L602.5,306.24 L603.5,307.43 L604.5,308.60 L605.5,309.77 L606.5,310.93 L607.5,312.08 L608.5,313.23 L609.5,314.36 L610.5,315.49 L611.5,316.61 L612.5,317.72 L613.5,318.83 L614.5,319.92 L615.5,321.01 L616.5,322.10 L617.5,323.17 L618.5,324.24 L619.5,325.30 L620.5,326.35 L621.5,327.40 L622.5,328.44 L623.5,329.47 L624.5,330.49 L625.5,331.51 L626.5,332.52 L627.5,333.53 L628.5,334.53 L629.5,335.52 L630.5,336.50 L631.5,337.48 L632.5,338.46 L633.5,339.42 L634.5,340.39 L635.5,341.34 L636.5,342.29 L637.5,343.24 L638.5,344.17 L639.5,345.11 L640.5,346.04 L641.5,346.96 L642.5,347.88 L643.5,348.79 L644.5,349.70 L645.5,350.60 L646.5,351.50 L647.5,352.39 L648.5,353.28 L649.5,354.16 L650.5,355.04 L651.5,355.92 L652.5,356.79 L653.5,357.65 L654.5,358.51 L655.5,359.37 L656.5,360.23 L657.5,361.08 L658.5,361.92 L659.5,362.77 L660.5,363.61 L661.5,364.44 L662.5,365.28 L663.5,366.10 L664.5,366.93 L665.5,367.75 L666.5,368.57 L667.5,369.39 L668.5,370.20 L669.5,371.01 L670.5,371.82 L671.5,372.62 L672.5,373.43 L673.5,374.23 L674.5,375.02 L675.5,375.82 L676.5,376.61 L677.5,377.40 L678.5,378.19 L679.5,378.97 L680.5,379.75 L681.5,380.53 L682.5,381.31 L683.5,382.09 L684.5,382.86 L685.5,383.63 L686.5,384.40 L687.5,385.17 L688.5,385.94 L689.5,386.71 L690.5,387.47 L691.5,388.23 L692.5,388.99 L693.5,389.75 L694.5,390.51 L695.5,391.26 L696.5,392.02 L697.5,392.77 L698.5,393.52 L699.5,394.27 L700.5,395.02 L701.5,395.77 L702.5,396.52 L703.5,397.26 L704.5,398.01 L705.5,398.75 L706.5,399.50 L707.5,400.24 L708.5,400.98 L709.5,401.72 L710.5,402.46 L711.5,403.20 L712.5,403.93 L713.5,404.67 L714.5,405.40 L715.5,406.14 L716.5,406.87 L717.5,407.61 L718.5,408.34 L719.5,409.07 L720.5,409.80 L721.5,410.53 L722.5,411.26 L723.5,411.99 L724.5,412.72 L725.5,413.45 L726.5,414.18 L727.5,414.91 L728.5,415.64 L729.5,416.36 L730.5,417.09 L731.5,417.81 L732.5,418.54 L733.5,419.26 L734.5,419.99 L735.5,420.71 L736.5,421.44 L737.5,422.16 L738.5,422.88 L739.5,423.61 L740.5,424.33 L741.5,425.05 L742.5,425.77 L743.5,426.50 L744.5,427.22 L745.5,427.94 L746.5,428.66 L747.5,429.38 L748.5,430.10 L749.5,430.82 L750.5,431.54 L751.5,432.26 L752.5,432.98 L753.5,433.70 L754.5,434.42 L755.5,435.14 L756.5,435.86 L757.5,436.58 L758.5,437.30 L759.5,438.02 L760.5,438.74 L761.5,439.45 L762.5,440.17 L763.5,440.89 L764.5,441.61 L765.5,442.33 L766.5,443.05 L767.5,443.76 L768.5,444.48 L769.5,445.20 L770.5,445.92 L771.5,446.63 L772.5,447.35 L773.5,448.07 L774.5,448.79 L775.5,449.50 L776.5,450.22 L777.5,450.94 L778.5,451.66 L779.5,452.37 L780.5,453.09 L781.5,453.81 L782.5,454.52 L783.5,455.24 L784.5,455.96 L785.5,456.67 L786.5,457.39 L787.5,458.11 L788.5,458.82 L789.5,459.54 L790.5,460.26 L791.5,460.97 L792.5,461.69 L793.5,462.41 L794.5,463.12 L795.5,463.84 L796.5,464.56 L797.5,465.27 L798.5,465.99 L799.5,466.70 L800.5,467.42 L801.5,468.14 L802.5,468.85 L803.5,469.57 L804.5,470.29 L805.5,471.00 L806.5,471.72 L807.5,472.43 L808.5,473.15 L809.5,473.87 L810.5,474.58 L811.5,475.30 L812.5,476.01 L813.5,476.73 L814.5,477.45 L815.5,478.16 L816.5,478.88 L817.5,479.60 L818.5,480.31 L819.5,481.03 L820.5,481.74 L821.5,482.46 L822.5,483.18 L823.5,483.89 L824.5,484.61 L825.5,485.32 L826.5,486.04 L827.5,486.76 L828.5,487.47 L829.5,488.19 L830.5,488.90 L831.5,489.62 L832.5,490.34 L833.5,491.05 L834.5,491.77" stroke="#008080" stroke-width="2.3"/>
<path d="M74.5,499.09 L75.5,498.37 L76.5,497.66 L77.5,496.94 L78.5,496.23 L79.5,495.51 L80.5,494.79 L81.5,494.08 L82.5,493.36 L83.5,492.65 L84.5,491.93 L85.5,491.21 L86.5,490.50 L87.5,489.78 L88.5,489.06 L89.5,488.35 L90.5,487.63 L91.5,486.92 L92.5,486.20 L93.5,485.48 L94.5,484.77 L95.5,484.05 L96.5,483.34 L97.5,482.62 L98.5,481.90 L99.5,481.19 L100.5,480.47 L101.5,479.75 L102.5,479.04 L103.5,478.32 L104.5,477.61 L105.5,476.89 L106.5,476.17 L107.5,475.46 L108.5,474.74 L109.5,474.02 L110.5,473.31 L111.5,472.59 L112.5,471.87 L113.5,471.16 L114.5,470.44 L115.5,469.72 L116.5,469.01 L117.5,468.29 L118.5,467.57 L119.5,466.86 L120.5,466.14 L121.5,465.42 L122.5,464.71 L123.5,463.99 L124.5,463.27 L125.5,462.56 L126.5,461.84 L127.5,461.12 L128.5,460.40 L129.5,459.69 L130.5,458.97 L131.5,458.25 L132.5,457.53 L133.5,456.82 L134.5,456.10 L135.5,455.38 L136.5,454.66 L137.5,453.94 L138.5,453.23 L139.5,452.51 L140.5,451.79 L141.5,451.07 L142.5,450.35 L143.5,449.63 L144.5,448.91 L145.5,448.19 L146.5,447.48 L147.5,446.76 L148.5,446.04 L149.5,445.32 L150.5,444.60 L151.5,443.88 L152.5,443.16 L153.5,442.44 L154.5,441.71 L155.5,440.99 L156.5,440.27 L157.5,439.55 L158.5,438.83 L159.5,438.11 L160.5,437.38 L161.5,436.66 L162.5,435.94 L163.5,435.22 L164.5,434.49 L165.5,433.77 L166.5,433.04 L167.5,432.32 L168.5,431.59 L169.5,430.87 L170.5,430.14 L171.5,429.41 L172.5,428.69 L173.5,427.96 L174.5,427.23 L175.5,426.50 L176.5,425.77 L177.5,425.05 L178.5,424.32 L179.5,423.58 L180.5,422.85 L181.5,422.12 L182.5,421.39 L183.5,420.65 L184.5,419.92 L185.5,419.18 L186.5,418.45 L187.5,417.71 L188.5,416.97 L189.5,416.24 L190.5,415.50 L191.5,414.76 L192.5,414.02 L193.5,413.27 L194.5,412.53 L195.5,411.78 L196.5,411.04 L197.5,410.29 L198.5,409.54 L199.5,408.79 L200.5,408.04 L201.5,407.29 L202.5,406.54 L203.5,405.78 L204.5,405.03 L205.5,404.27 L206.5,403.51 L207.5,402.75 L208.5,401.99 L209.5,401.22 L210.5,400.45 L211.5,399.69 L212.5,398.92 L213.5,398.14 L214.5,397.37 L215.5,396.59 L216.5,395.81 L217.5,395.03 L218.5,394.25 L219.5,393.46 L220.5,392.68 L221.5,391.89 L222.5,391.09 L223.5,390.30 L224.5,389.50 L225.5,388.70 L226.5,387.89 L227.5,387.08 L228.5,386.27 L229.5,385.46 L230.5,384.64 L231.5,383.82 L232.5,383.00 L233.5,382.17 L234.5,381.34 L235.5,380.50 L236.5,379.67 L237.5,378.82 L238.5,377.98 L239.5,377.12 L240.5,376.27 L241.5,375.41 L242.5,374.55 L243.5,373.68 L244.5,372.80 L245.5,371.93 L246.5,371.04 L247.5,370.15 L248.5,369.26 L249.5,368.36 L250.5,367.46 L251.5,366.55 L252.5,365.63 L253.5,364.71 L254.5,363.79 L255.5,362.85 L256.5,361.91 L257.5,360.97 L258.5,360.02 L259.5,359.06 L260.5,358.09 L261.5,357.12 L262.5,356.14 L263.5,355.16 L264.5,354.16 L265.5,353.16 L266.5,352.15 L267.5,351.14 L268.5,350.11 L269.5,349.08 L270.5,348.04 L271.5,346.99 L272.5,345.94 L273.5,344.87 L274.5,343.80 L275.5,342.72 L276.5,341.63 L277.5,340.53 L278.5,339.42 L279.5,338.30 L280.5,337.17 L281.5,336.03 L282.5,334.88 L283.5,333.72 L284.5,332.56 L285.5,331.38 L286.5,330.19 L287.5,328.99 L288.5,327.78 L289.5,326.56 L290.5,325.33 L291.5,324.08 L292.5,322.83 L293.5,321.57 L294.5,320.29 L295.5,319.00 L296.5,317.70 L297.5,316.39 L298.5,315.07 L299.5,313.73 L300.5,312.39 L301.5,311.03 L302.5,309.66 L303.5,308.27 L304.5,306.88 L305.5,305.47 L306.5,304.05 L307.5,302.61 L308.5,301.17 L309.5,299.71 L310.5,298.23 L311.5,296.75 L312.5,295.25 L313.5,293.74 L314.5,292.21 L315.5,290.68 L316.5,289.13 L317.5,287.56 L318.5,285.98 L319.5,284.39 L320.5,282.79 L321.5,281.17 L322.5,279.54 L323.5,277.90 L324.5,276.24 L325.5,274.57 L326.5,272.89 L327.5,271.20 L328.5,269.49 L329.5,267.77 L330.5,266.03 L331.5,264.28 L332.5,262.52 L333.5,260.75 L334.5,258.96 L335.5,257.17 L336.5,255.36 L337.5,253.53 L338.5,251.70 L339.5,249.85 L340.5,247.99 L341.5,246.12 L342.5,244.24 L343.5,242.35 L344.5,240.45 L345.5,238.53 L346.5,236.61 L347.5,234.67 L348.5,232.72 L349.5,230.77 L350.5,228.80 L351.5,226.83 L352.5,224.84 L353.5,222.85 L354.5,220.84 L355.5,218.83 L356.5,216.81 L357.5,214.79 L358.5,212.75 L359.5,210.71 L360.5,208.66 L361.5,206.60 L362.5,204.54 L363.5,202.47 L364.5,200.40 L365.5,198.32 L366.5,196.24 L367.5,194.15 L368.5,192.06 L369.5,189.97 L370.5,187.87 L371.5,185.77 L372.5,183.66 L373.5,181.56 L374.5,179.45 L375.5,177.35 L376.5,175.24 L377.5,173.13 L378.5,171.02 L379.5,168.92 L380.5,166.81 L381.5,164.71 L382.5,162.61 L383.5,160.51 L384.5,158.42 L385.5,156.32 L386.5,154.24 L387.5,152.16 L388.5,150.08 L389.5,148.01 L390.5,145.95 L391.5,143.89 L392.5,141.84 L393.5,139.80 L394.5,137.77 L395.5,135.75 L396.5,133.74 L397.5,131.74 L398.5,129.74 L399.5,127.76 L400.5,125.80 L401.5,123.84 L402.5,121.90 L403.5,119.97 L404.5,118.06 L405.5,116.16 L406.5,114.27 L407.5,112.41 L408.5,110.55 L409.5,108.72 L410.5,106.90 L411.5,105.11 L412.5,103.33 L413.5,101.57 L414.5,99.83 L415.5,98.11 L416.5,96.41 L417.5,94.73 L418.5,93.08 L419.5,91.45 L420.5,89.84 L421.5,88.26 L422.5,86.70 L423.5,85.17 L424.5,83.66 L425.5,82.19 L426.5,80.74 L427.5,79.31 L428.5,77.92 L429.5,76.56 L430.5,75.23 L431.5,73.94 L432.5,72.68 L433.5,71.45 L434.5,70.26 L435.5,69.11 L436.5,68.00 L437.5,66.93 L438.5,65.91 L439.5,64.93 L440.5,64.01 L441.5,63.13 L442.5,62.31 L443.5,61.56 L444.5,60.86 L445.5,60.23 L446.5,59.67 L447.5,59.18 L448.5,58.76 L449.5,58.42 L450.5,58.15 L451.5,57.95 L452.5,57.82 L453.5,57.75 L454.5,57.73 L455.5,57.75 L456.5,57.82 L457.5,57.95 L458.5,58.15 L459.5,58.42 L460.5,58.76 L461.5,59.18 L462.5,59.67 L463.5,60.23 L464.5,60.86 L465.5,61.56 L466.5,62.31 L467.5,63.13 L468.5,64.01 L469.5,64.93 L470.5,65.91 L471.5,66.93 L472.5,68.00 L473.5,69.11 L474.5,70.26 L475.5,71.45 L476.5,72.68 L477.5,73.94 L478.5,75.23 L479.5,76.56 L480.5,77.92 L481.5,79.31 L482.5,80.74 L483.5,82.19 L484.5,83.66 L485.5,85.17 L486.5,86.70 L487.5,88.26 L488.5,89.84 L489.5,91.45 L490.5,93.08 L491.5,94.73 L492.5,96.41 L493.5,98.11 L494.5,99.83 L495.5,101.57 L496.5,103.33 L497.5,105.11 L498.5,106.90 L499.5,108.72 L500.5,110.55 L501.5,112.41 L502.5,114.27 L503.5,116.16 L504.5,118.06 L505.5,119.97 L506.5,121.90 L507.5,123.84 L508.5,125.80 L509.5,127.76 L510.5,129.74 L511.5,131.74 L512.5,133.74 L513.5,135.75 L514.5,137.77 L515.5,139.80 L516.5,141.84 L517.5,143.89 L518.5,145.95 L519.5,148.01 L520.5,150.08 L521.5,152.16 L522.5,154.24 L523.5,156.32 L524.5,158.42 L525.5,160.51 L526.5,162.61 L527.5,164.71 L528.5,166.81 L529.5,168.92 L530.5,171.02 L531.5,173.13 L532.5,175.24 L533.5,177.35 L534.5,179.45 L535.5,181.56 L536.5,183.66 L537.5,185.77 L538.5,187.87 L539.5,189.97 L540.5,192.06 L541.5,194.15 L542.5,196.24 L543.5,198.32 L544.5,200.40 L545.5,202.47 L546.5,204.54 L547.5,206.60 L548.5,208.66 L549.5,210.71 L550.5,212.75 L551.5,214.79 L552.5,216.81 L553.5,218.83 L554.5,220.84 L555.5,222.85 L556.5,224.84 L557.5,226.83 L558.5,228.80 L559.5,230.77 L560.5,232.72 L561.5,234.67 L562.5,236.61 L563.5,238.53 L564.5,240.45 L565.5,242.35 L566.5,244.24 L567.5,246.12 L568.5,247.99 L569.5,249.85 L570.5,251.70 L571.5,253.53 L572.5,255.36 L573.5,257.17 L574.5,258.96 L575.5,260.75 L576.5,262.52 L577.5,264.28 L578.5,266.03 L579.5,267.77 L580.5,269.49 L581.5,271.20 L582.5,272.89 L583.5,274.57 L584.5,276.24 L585.5,277.90 L586.5,279.54 L587.5,281.17 L588.5,282.79 L589.5,284.39 L590.5,285.98 L591.5,287.56 L592.5,289.13 L593.5,290.68 L594.5,292.21 L595.5,293.74 L596.5,295.25 L597.5,296.75 L598.5,298.23 L599.5,299.71 L600.5,301.17 L601.5,302.61 L602.5,304.05 L603.5,305.47 L604.5,306.88 L605.5,308.27 L606.5,309.66 L607.5,311.03 L608.5,312.39 L609.5,313.73 L610.5,315.07 L611.5,316.39 L612.5,317.70 L613.5,319.00 L614.5,320.29 L615.5,321.57 L616.5,322.83 L617.5,324.08 L618.5,325.33 L619.5,326.56 L620.5,327.78 L621.5,328.99 L622.5,330.19 L623.5,331.38 L624.5,332.56 L625.5,333.72 L626.5,334.88 L627.5,336.03 L628.5,337.17 L629.5,338.30 L630.5,339.42 L631.5,340.53 L632.5,341.63 L633.5,342.72 L634.5,343.80 L635.5,344.87 L636.5,345.94 L637.5,346.99 L638.5,348.04 L639.5,349.08 L640.5,350.11 L641.5,351.14 L642.5,352.15 L643.5,353.16 L644.5,354.16 L645.5,355.16 L646.5,356.14 L647.5,357.12 L648.5,358.09 L649.5,359.06 L650.5,360.02 L651.5,360.97 L652.5,361.91 L653.5,362.85 L654.5,363.79 L655.5,364.71 L656.5,365.63 L657.5,366.55 L658.5,367.46 L659.5,368.36 L660.5,369.26 L661.5,370.15 L662.5,371.04 L663.5,371.93 L664.5,372.80 L665.5,373.68 L666.5,374.55 L667.5,375.41 L668.5,376.27 L669.5,377.12 L670.5,377.98 L671.5,378.82 L672.5,379.67 L673.5,380.50 L674.5,381.34 L675.5,382.17 L676.5,383.00 L677.5,383.82 L678.5,384.64 L679.5,385.46 L680.5,386.27 L681.5,387.08 L682.5,387.89 L683.5,388.70 L684.5,389.50 L685.5,390.30 L686.5,391.09 L687.5,391.89 L688.5,392.68 L689.5,393.46 L690.5,394.25 L691.5,395.03 L692.5,395.81 L693.5,396.59 L694.5,397.37 L695.5,398.14 L696.5,398.92 L697.5,399.69 L698.5,400.45 L699.5,401.22 L700.5,401.99 L701.5,402.75 L702.5,403.51 L703.5,404.27 L704.5,405.03 L705.5,405.78 L706.5,406.54 L707.5,407.29 L708.5,408.04 L709.5,408.79 L710.5,409.54 L711.5,410.29 L712.5,411.04 L713.5,411.78 L714.5,412.53 L715.5,413.27 L716.5,414.02 L717.5,414.76 L718.5,415.50 L719.5,416.24 L720.5,416.97 L721.5,417.71 L722.5,418.45 L723.5,419.18 L724.5,419.92 L725.5,420.65 L726.5,421.39 L727.5,422.12 L728.5,422.85 L729.5,423.58 L730.5,424.32 L731.5,425.05 L732.5,425.77 L733.5,426.50 L734.5,427.23 L735.5,427.96 L736.5,428.69 L737.5,429.41 L738.5,430.14 L739.5,430.87 L740.5,431.59 L741.5,432.32 L742.5,433.04 L743.5,433.77 L744.5,434.49 L745.5,435.22 L746.5,435.94 L747.5,436.66 L748.5,437.38 L749.5,438.11 L750.5,438.83 L751.5,439.55 L752.5,440.27 L753.5,440.99 L754.5,441.71 L755.5,442.44 L756.5,443.16 L757.5,443.88 L758.5,444.60 L759.5,445.32 L760.5,446.04 L761.5,446.76 L762.5,447.48 L763.5,448.19 L764.5,448.91 L765.5,449.63 L766.5,450.35 L767.5,451.07 L768.5,451.79 L769.5,452.51 L770.5,453.23 L771.5,453.94 L772.5,454.66 L773.5,455.38 L774.5,456.10 L775.5,456.82 L776.5,457.53 L777.5,458.25 L778.5,458.97 L779.5,459.69 L780.5,460.40 L781.5,461.12 L782.5,461.84 L783.5,462.56 L784.5,463.27 L785.5,463.99 L786.5,464.71 L787.5,465.42 L788.5,466.14 L789.5,466.86 L790.5,467.57 L791.5,468.29 L792.5,469.01 L793.5,469.72 L794.5,470.44 L795.5,471.16 L796.5,471.87 L797.5,472.59 L798.5,473.31 L799.5,474.02 L800.5,474.74 L801.5,475.46 L802.5,476.17 L803.5,476.89 L804.5,477.61 L805.5,478.32 L806.5,479.04 L807.5,479.75 L808.5,480.47 L809.5,481.19 L810.5,481.90 L811.5,482.62 L812.5,483.34 L813.5,484.05 L814.5,484.77 L815.5,485.48 L816.5,486.20 L817.5,486.92 L818.5,487.63 L819.5,488.35 L820.5,489.06 L821.5,489.78 L822.5,490.50 L823.5,491.21 L824.5,491.93 L825.5,492.65 L826.5,493.36 L827.5,494.08 L828.5,494.79 L829.5,495.51 L830.5,496.23 L831.5,496.94 L832.5,497.66 L833.5,498.37 L834.5,499.09" stroke="#000000" stroke-width="1.65"/>
</g>
<line x1="454.5" y1="11.5" x2="454.5" y2="471.0" stroke="#111" stroke-width="1.2"/>
<path d="M119.70,471.0v-5.5 M119.70,11.5v5.5 M156.90,471.0v-5.5 M156.90,11.5v5.5 M194.10,471.0v-5.5 M194.10,11.5v5.5 M231.30,471.0v-5.5 M231.30,11.5v5.5 M268.50,471.0v-9.0 M268.50,11.5v9.0 M305.70,471.0v-5.5 M305.70,11.5v5.5 M342.90,471.0v-5.5 M342.90,11.5v5.5 M380.10,471.0v-5.5 M380.10,11.5v5.5 M417.30,471.0v-5.5 M417.30,11.5v5.5 M491.70,471.0v-5.5 M491.70,11.5v5.5 M528.90,471.0v-5.5 M528.90,11.5v5.5 M566.10,471.0v-5.5 M566.10,11.5v5.5 M603.30,471.0v-5.5 M603.30,11.5v5.5 M640.50,471.0v-9.0 M640.50,11.5v9.0 M677.70,471.0v-5.5 M677.70,11.5v5.5 M714.90,471.0v-5.5 M714.90,11.5v5.5 M752.10,471.0v-5.5 M752.10,11.5v5.5 M789.30,471.0v-5.5 M789.30,11.5v5.5 M82.5,424.89h5.3 M826.5,424.89h-5.3 M82.5,397.92h5.3 M826.5,397.92h-5.3 M82.5,378.78h5.3 M826.5,378.78h-5.3 M82.5,363.94h7.4 M826.5,363.94h-7.4 M82.5,351.81h5.3 M826.5,351.81h-5.3 M82.5,341.56h5.3 M826.5,341.56h-5.3 M82.5,332.68h5.3 M826.5,332.68h-5.3 M82.5,324.84h5.3 M826.5,324.84h-5.3 M82.5,317.83h7.4 M826.5,317.83h-7.4 M82.5,271.73h5.3 M826.5,271.73h-5.3 M82.5,244.75h5.3 M826.5,244.75h-5.3 M82.5,225.62h5.3 M826.5,225.62h-5.3 M82.5,210.77h7.4 M826.5,210.77h-7.4 M82.5,198.65h5.3 M826.5,198.65h-5.3 M82.5,188.39h5.3 M826.5,188.39h-5.3 M82.5,179.51h5.3 M826.5,179.51h-5.3 M82.5,171.68h5.3 M826.5,171.68h-5.3 M82.5,164.67h7.4 M826.5,164.67h-7.4 M82.5,118.56h5.3 M826.5,118.56h-5.3 M82.5,91.59h5.3 M826.5,91.59h-5.3 M82.5,72.45h5.3 M826.5,72.45h-5.3 M82.5,57.61h7.4 M826.5,57.61h-7.4 M82.5,45.48h5.3 M826.5,45.48h-5.3 M82.5,35.23h5.3 M826.5,35.23h-5.3 M82.5,26.34h5.3 M826.5,26.34h-5.3 M82.5,18.51h5.3 M826.5,18.51h-5.3" stroke="#4a4a4a" stroke-width="1" fill="none"/>
<rect x="82.5" y="11.5" width="744.0" height="459.5" fill="none" stroke="#4a4a4a" stroke-width="1"/>
<line x1="108.1" y1="45.5" x2="181.8" y2="45.5" stroke="#0000ff" stroke-width="4.0"/>
<line x1="109" y1="91.5" x2="181.1" y2="91.5" stroke="#ff0000" stroke-width="2.3"/>
<line x1="109" y1="137.75" x2="181.1" y2="137.75" stroke="#008080" stroke-width="2.3"/>
<line x1="109.4" y1="184" x2="180.7" y2="184" stroke="#000000" stroke-width="1.65"/>
</svg>
<div class="t yt" style="top:0.90px">100</div>
<div class="t yt" style="top:47.01px">50</div>
<div class="t yt" style="top:154.07px">10</div>
<div class="t yt" style="top:200.17px">5</div>
<div class="t yt" style="top:307.23px">1</div>
<div class="t yt" style="top:353.34px">0.5</div>
<div class="t yt" style="top:460.40px">0.1</div>
<div class="t xt" style="left:41.90px;top:479px">−20</div>
<div class="t xt" style="left:227.90px;top:479px">−10</div>
<div class="t xt" style="left:413.90px;top:479px">0</div>
<div class="t xt" style="left:599.90px;top:479px">10</div>
<div class="t xt" style="left:785.90px;top:479px">20</div>
<div class="t" style="font-size:21px;left:451.6px;top:519px;transform:translateX(-50%) scale(1,1.05);-webkit-text-stroke:0.25px #000">Galactocentric distance (kpc)</div>
<div class="t" style="font-size:21px;left:11.4px;top:241.5px;transform:translate(-50%,-50%) rotate(-90deg) scale(1,1.05);-webkit-text-stroke:0.25px #000">CR density (aribtrary units)</div>
<div class="t lg" style="top:35.00px">E = 0.01 TeV</div>
<div class="t lg" style="top:82.00px">E = 0.1 TeV</div>
<div class="t lg" style="top:128.00px">E =  1 TeV</div>
<div class="t lg" style="top:174.00px">E = 10 TeV</div>
</div></body></html>
